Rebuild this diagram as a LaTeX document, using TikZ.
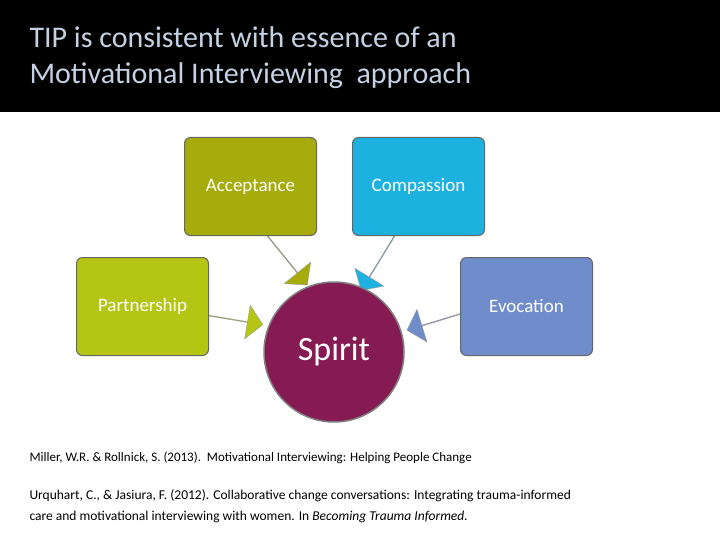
\documentclass[tikz,border=0pt]{standalone}
\usepackage{fontspec}
\setmainfont{Carlito}
\usetikzlibrary{shapes.arrows}
\definecolor{ttl}{HTML}{C3D1E2}
\definecolor{cacc}{HTML}{A5AC0C}
\definecolor{ccom}{HTML}{1DB1E0}
\definecolor{cpar}{HTML}{B4C513}
\definecolor{cevo}{HTML}{6F8CCB}
\definecolor{cspi}{HTML}{861A52}
\begin{document}
\begin{tikzpicture}[x=1pt,y=-1pt,
  box/.style={draw=black!60,line width=1pt,rounded corners=6pt,minimum width=132pt,minimum height=98pt,text=white,font=\fontsize{19}{22}\selectfont,anchor=north west},
  blk/.style={single arrow,draw=black!40,minimum height=#1,minimum width=34pt,single arrow head extend=8pt,inner sep=0pt,single arrow tip angle=95}]
\useasboundingbox (0,0) rectangle (720,540);
\fill[white] (0,0) rectangle (720,540);
\fill[black] (0,0) rectangle (720,112);
\node[anchor=west,text=ttl,font=\fontsize{30}{36}\selectfont,align=left] (title) at (26,58) {TIP is consistent with essence of an\\Motivational Interviewing\ \ approach};
\node[blk=64pt,fill=cacc,rotate=-51] (a1) at (287,260) {};
\node[blk=64pt,fill=ccom,rotate=-121.5] (a2) at (378,263) {};
\node[blk=56pt,fill=cpar,rotate=-9.5] (a3) at (235,320) {};
\node[blk=56pt,fill=cevo,rotate=-163] (a4) at (434,322) {};
\node[box,fill=cacc] (acc) at (184,137) {Acceptance};
\node[box,fill=ccom] (com) at (352,137) {Compassion};
\node[box,fill=cpar] (par) at (76,257) {Partnership};
\node[box,fill=cevo] (evo) at (460,257) {Evocation};
\node[circle,draw=black!50,line width=1.5pt,fill=cspi,minimum size=140pt,text=white,font=\fontsize{34}{40}\selectfont] (spi) at (334,352) {Spirit};
\node[anchor=west,font=\fontsize{13}{15}\selectfont] (r1) at (26,458) {Miller, W.R. \& Rollnick, S. (2013).\ \ Motivational Interviewing: Helping People Change};
\node[anchor=north west,font=\fontsize{13.5}{21}\selectfont,align=left] (r2) at (26,486) {Urquhart, C., \& Jasiura, F. (2012). Collaborative change conversations: Integrating trauma-informed\\care and motivational interviewing with women. In \textit{Becoming Trauma Informed.}};
\end{tikzpicture}
\end{document}
